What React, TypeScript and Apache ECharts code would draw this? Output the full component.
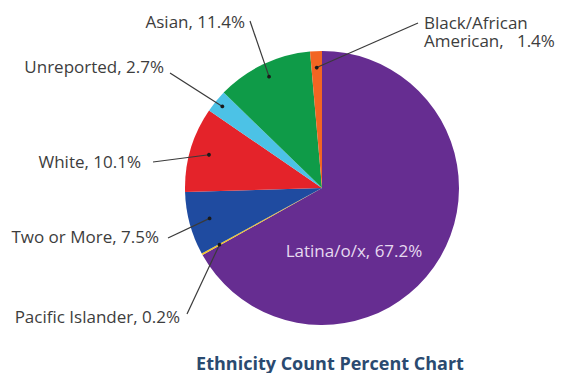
import React, { useEffect, useRef } from "react";
import * as echarts from "echarts";

// ---- data ----
const categories = [
  "Latina/o/x",
  "Pacific Islander",
  "Two or More",
  "White",
  "Unreported",
  "Asian",
  "Black/African American",
];
const percents = [67.2, 0.2, 7.5, 10.1, 2.7, 11.4, 1.4];
const labelTexts = [
  "Latina/o/x, 67.2%",
  "Pacific Islander, 0.2%",
  "Two or More, 7.5%",
  "White, 10.1%",
  "Unreported, 2.7%",
  "Asian, 11.4%",
  "Black/African\nAmerican,   1.4%",
];
const chartTitle = "Ethnicity Count Percent Chart";

// ---- styles / layout ----
const sliceColors = ["#662d91", "#f2c623", "#1f4ba0", "#e4232a", "#4cc2e6", "#0f9b48", "#f26522"];
const CENTER: [number, number] = [322, 188];
const RADIUS = 137;
// label anchor: x, y, align
const labelAnchors: [number, number, string][] = [
  [354, 250, "center"],
  [180, 316.5, "right"],
  [159, 236.5, "right"],
  [141, 161, "right"],
  [164, 66.5, "right"],
  [245, 21, "right"],
  [424, 31.5, "left"],
];
// where each leader line meets its label
const lineEnds: ([number, number] | null)[] = [
  null,
  [187, 314],
  [168, 238],
  [153, 162],
  [170, 73],
  [250, 21],
  [418, 23],
];
// radial position of the leader dot (fraction of radius)
const dotFracs = [0, 0.855, 0.85, 0.86, 0.94, 0.9, 0.88];

const total = percents.reduce((a, b) => a + b, 0);
const midValues: number[] = [];
{
  let cum = 0;
  percents.forEach((v) => {
    midValues.push(cum + v / 2);
    cum += v;
  });
}

export default function App() {
  const ref = useRef<HTMLDivElement>(null);
  useEffect(() => {
    if (!ref.current) return;
    const chart = echarts.init(ref.current, undefined, { renderer: "svg" });
    const font = "'Open Sans', 'Noto Sans', sans-serif";
    const leaderData = percents
      .map((_, i) => {
        const end = lineEnds[i];
        return end ? [dotFracs[i], midValues[i], end[0], end[1]] : null;
      })
      .filter((d) => d !== null);
    chart.setOption({
      animation: false,
      backgroundColor: "#ffffff",
      polar: { center: CENTER, radius: RADIUS },
      angleAxis: { type: "value", min: 0, max: total, startAngle: 90, clockwise: true, show: false },
      radiusAxis: { type: "value", min: 0, max: 1, show: false },
      graphic: [
        {
          type: "text",
          x: 330,
          y: 362.5,
          style: {
            text: chartTitle,
            align: "center",
            verticalAlign: "middle",
            fontFamily: font,
            fontWeight: "bold",
            fontSize: 18,
            fill: "#2a4a70",
          },
        },
      ],
      series: [
        {
          type: "pie",
          center: CENTER,
          radius: [0, RADIUS],
          startAngle: 90,
          clockwise: true,
          avoidLabelOverlap: false,
          silent: true,
          data: categories.map((name, i) => ({
            name,
            value: percents[i],
            itemStyle: { color: sliceColors[i] },
            label:
              i === 0
                ? { position: "inside", color: "#e6daf0" }
                : { position: "outside", color: "#3d3d3d" },
          })),
          label: {
            show: true,
            formatter: (p: any) => labelTexts[p.dataIndex],
            fontFamily: font,
            fontSize: 17,
            lineHeight: 17.5,
          },
          labelLine: { show: false },
          labelLayout: (p: any) => {
            const a = labelAnchors[p.dataIndex];
            return {
              x: a[0],
              y: a[1],
              align: a[2],
              verticalAlign: "middle",
              hideOverlap: false,
            };
          },
        },
        {
          type: "custom",
          coordinateSystem: "polar",
          silent: true,
          clip: false,
          z: 10,
          data: leaderData,
          renderItem: (params: any, api: any) => {
            const p = api.coord([api.value(0), api.value(1)]);
            const ex = api.value(2);
            const ey = api.value(3);
            return {
              type: "group",
              children: [
                {
                  type: "line",
                  shape: { x1: p[0], y1: p[1], x2: ex, y2: ey },
                  style: { stroke: "#3a3a3a", lineWidth: 1.2 },
                },
                {
                  type: "circle",
                  shape: { cx: p[0], cy: p[1], r: 1.9 },
                  style: { fill: "#1a1a1a" },
                },
              ],
            };
          },
        },
      ],
    });
    return () => chart.dispose();
  }, []);
  return (
    <div
      ref={ref}
      style={{ position: "fixed", left: 0, top: 0, width: 561, height: 373, background: "#fff" }}
    />
  );
}
